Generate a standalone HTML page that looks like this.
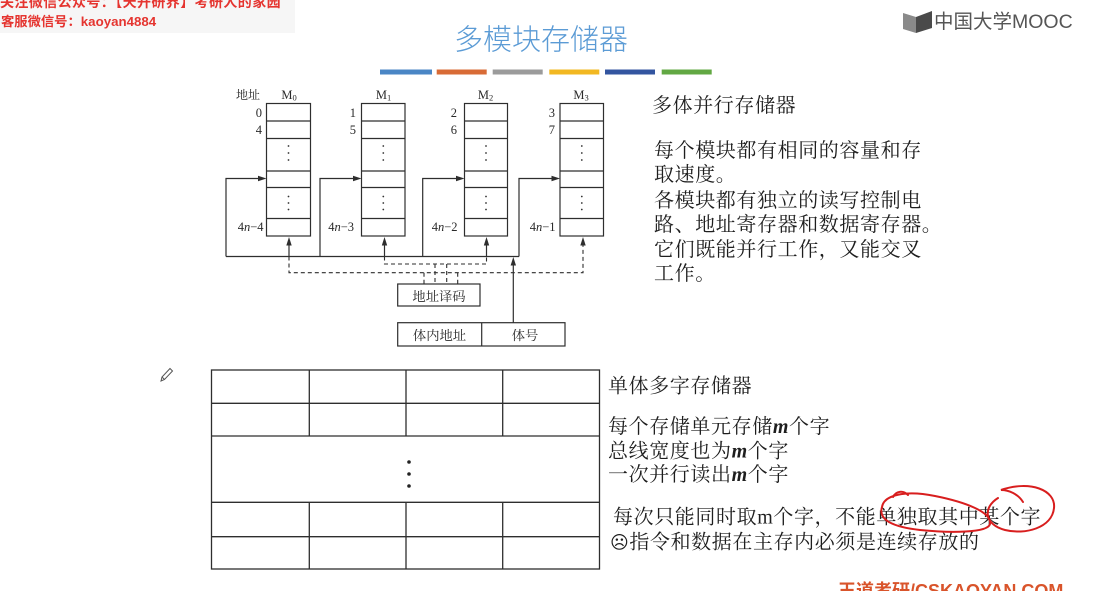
<!DOCTYPE html>
<html>
<head>
<meta charset="utf-8">
<style>
  html,body{margin:0;padding:0;background:#fff;}
  body{width:1104px;height:591px;overflow:hidden;position:relative;}
  svg{position:absolute;left:0;top:0;display:block;}
</style>
</head>
<body>
<svg width="1104" height="591" viewBox="0 0 1104 591" xmlns="http://www.w3.org/2000/svg">
  <!-- top-left watermark -->
  <rect x="0" y="0" width="295" height="33" fill="#f6f6f6"/>
  <text x="0" y="7" font-family="'Noto Sans CJK SC', sans-serif" font-weight="bold" font-size="14" fill="#e53530" letter-spacing="0.4">关注微信公众号：【天开研界】考研人的家园</text>
  <text x="1" y="26" font-family="'Liberation Sans','Noto Sans CJK SC', sans-serif" font-weight="bold" font-size="13.3" fill="#e53530">客服微信号：kaoyan4884</text>

  <!-- MOOC logo -->
  <polygon points="903,13 916,17 916,33 903,29" fill="#8a8a8a"/>
  <polygon points="916,17 932,11 932,28 916,33" fill="#4a4a4a"/>
  <text x="934" y="22" dominant-baseline="central" font-family="'Liberation Sans','Noto Sans CJK SC', sans-serif" font-size="19.5" fill="#555">中国大学MOOC</text>

  <!-- Title -->
  <text x="541" y="37.5" text-anchor="middle" dominant-baseline="central" font-family="'Noto Sans CJK SC', sans-serif" font-weight="300" font-size="29" fill="#5b9bd5">多模块存储器</text>

  <!-- colour bars -->
  <g>
    <rect x="380" y="69.5" width="52" height="5" fill="#4a86c5"/>
    <rect x="436.7" y="69.5" width="50" height="5" fill="#d86b36"/>
    <rect x="492.7" y="69.5" width="50" height="5" fill="#9b9b9b"/>
    <rect x="549.3" y="69.5" width="50" height="5" fill="#f2b822"/>
    <rect x="605" y="69.5" width="50" height="5" fill="#3355a0"/>
    <rect x="661.7" y="69.5" width="50" height="5" fill="#62a843"/>
  </g>

  <!-- ===== Multi-module diagram ===== -->
  <g stroke="#2e2e2e" stroke-width="1.2" fill="none">
    <!-- M0 -->
    <rect x="266.5" y="103.5" width="44" height="132.5"/>
    <path d="M266.5 121H310.5M266.5 138.5H310.5M266.5 171H310.5M266.5 187.5H310.5M266.5 218.5H310.5"/>
    <!-- M1 -->
    <rect x="361.5" y="103.5" width="43.5" height="132.5"/>
    <path d="M361.5 121H405M361.5 138.5H405M361.5 171H405M361.5 187.5H405M361.5 218.5H405"/>
    <!-- M2 -->
    <rect x="464.5" y="103.5" width="43" height="132.5"/>
    <path d="M464.5 121H507.5M464.5 138.5H507.5M464.5 171H507.5M464.5 187.5H507.5M464.5 218.5H507.5"/>
    <!-- M3 -->
    <rect x="560" y="103.5" width="43.5" height="132.5"/>
    <path d="M560 121H603.5M560 138.5H603.5M560 171H603.5M560 187.5H603.5M560 218.5H603.5"/>

    <!-- feedback lines and bus -->
    <path d="M226 256.5V178.5H259M320 256.5V178.5H354M422.7 256.5V178.5H457M519 256.5V178.5H553M226 256.5H519"/>

    <!-- solid up arrows from bus to modules -->
    <path d="M289 256.5V243M384.5 256.5V243M486.5 256.5V243"/>

    <!-- address/bank number arrow -->
    <path d="M513.3 322.7V264"/>

    <!-- decoder & address register boxes -->
    <rect x="397.7" y="284" width="82.3" height="22"/>
    <rect x="397.7" y="322.7" width="167.3" height="23.3"/>
    <path d="M481.7 322.7V346"/>
  </g>

  <!-- dashed lines -->
  <g stroke="#2e2e2e" stroke-width="1.1" fill="none" stroke-dasharray="4 3">
    <path d="M289 256.5V272.7H583V244"/>
    <path d="M384.5 256.5V264H486.5V256.5"/>
    <path d="M424 272.7V284M457.7 272.7V284M435 264V284M446.7 264V284"/>
  </g>

  <!-- arrowheads -->
  <g fill="#2e2e2e">
    <polygon points="266.5,178.5 258,175.8 258,181.2"/>
    <polygon points="361.5,178.5 353,175.8 353,181.2"/>
    <polygon points="464.5,178.5 456,175.8 456,181.2"/>
    <polygon points="560,178.5 551.5,175.8 551.5,181.2"/>
    <polygon points="289,237 286.3,245.5 291.7,245.5"/>
    <polygon points="384.5,237 381.8,245.5 387.2,245.5"/>
    <polygon points="486.5,237 483.8,245.5 489.2,245.5"/>
    <polygon points="583,237 580.3,245.5 585.7,245.5"/>
    <polygon points="513.3,257 510.6,265.5 516,265.5"/>
  </g>

  <!-- vertical ellipsis dots in modules -->
  <g fill="#333">
    <circle cx="288.5" cy="146" r="0.9"/><circle cx="288.5" cy="153" r="0.9"/><circle cx="288.5" cy="160" r="0.9"/>
    <circle cx="288.5" cy="196.5" r="0.9"/><circle cx="288.5" cy="203" r="0.9"/><circle cx="288.5" cy="209.5" r="0.9"/>
    <circle cx="383.3" cy="146" r="0.9"/><circle cx="383.3" cy="153" r="0.9"/><circle cx="383.3" cy="160" r="0.9"/>
    <circle cx="383.3" cy="196.5" r="0.9"/><circle cx="383.3" cy="203" r="0.9"/><circle cx="383.3" cy="209.5" r="0.9"/>
    <circle cx="486" cy="146" r="0.9"/><circle cx="486" cy="153" r="0.9"/><circle cx="486" cy="160" r="0.9"/>
    <circle cx="486" cy="196.5" r="0.9"/><circle cx="486" cy="203" r="0.9"/><circle cx="486" cy="209.5" r="0.9"/>
    <circle cx="581.8" cy="146" r="0.9"/><circle cx="581.8" cy="153" r="0.9"/><circle cx="581.8" cy="160" r="0.9"/>
    <circle cx="581.8" cy="196.5" r="0.9"/><circle cx="581.8" cy="203" r="0.9"/><circle cx="581.8" cy="209.5" r="0.9"/>
  </g>

  <!-- diagram labels -->
  <g font-family="'Liberation Serif','Noto Serif CJK SC', serif" font-size="12.5" fill="#2a2a2a" dominant-baseline="central">
    <text x="248" y="95" text-anchor="middle" font-size="12">地址</text>
    <text x="289" y="95" text-anchor="middle">M<tspan font-size="8.5" dy="2.5">0</tspan></text>
    <text x="383.5" y="95" text-anchor="middle">M<tspan font-size="8.5" dy="2.5">1</tspan></text>
    <text x="485.5" y="95" text-anchor="middle">M<tspan font-size="8.5" dy="2.5">2</tspan></text>
    <text x="581" y="95" text-anchor="middle">M<tspan font-size="8.5" dy="2.5">3</tspan></text>

    <text x="262" y="113" text-anchor="end">0</text>
    <text x="262" y="130" text-anchor="end">4</text>
    <text x="356" y="113" text-anchor="end">1</text>
    <text x="356" y="130" text-anchor="end">5</text>
    <text x="457" y="113" text-anchor="end">2</text>
    <text x="457" y="130" text-anchor="end">6</text>
    <text x="555" y="113" text-anchor="end">3</text>
    <text x="555" y="130" text-anchor="end">7</text>

    <text x="263.5" y="227" text-anchor="end">4<tspan font-style="italic">n</tspan>−4</text>
    <text x="354" y="227" text-anchor="end">4<tspan font-style="italic">n</tspan>−3</text>
    <text x="457.5" y="227" text-anchor="end">4<tspan font-style="italic">n</tspan>−2</text>
    <text x="555.5" y="227" text-anchor="end">4<tspan font-style="italic">n</tspan>−1</text>

    <text x="439" y="295.5" text-anchor="middle" font-size="13.3" font-family="'Noto Serif CJK SC', serif">地址译码</text>
    <text x="439.5" y="334.5" text-anchor="middle" font-size="13.3" font-family="'Noto Serif CJK SC', serif">体内地址</text>
    <text x="525" y="334.5" text-anchor="middle" font-size="13.3" font-family="'Noto Serif CJK SC', serif">体号</text>
  </g>

  <!-- right top text -->
  <g font-family="'Liberation Serif','Noto Serif CJK SC', serif" font-size="20" fill="#1e1e1e" letter-spacing="0.6" dominant-baseline="central">
    <text x="652" y="106">多体并行存储器</text>
    <text x="654" y="151">每个模块都有相同的容量和存</text>
    <text x="654" y="175">取速度。</text>
    <text x="654" y="201">各模块都有独立的读写控制电</text>
    <text x="654" y="225">路、地址寄存器和数据寄存器。</text>
    <text x="654" y="250">它们既能并行工作，又能交叉</text>
    <text x="654" y="274">工作。</text>
  </g>

  <!-- pencil icon -->
  <g stroke="#555" stroke-width="1" fill="none">
    <path d="M161 381 L162 377 L170 368.5 L172.5 371 L164.5 379.5 Z"/>
    <path d="M162 377 L164.5 379.5"/>
  </g>

  <!-- bottom table -->
  <g stroke="#2e2e2e" stroke-width="1.3" fill="none">
    <rect x="211.5" y="370" width="388" height="199"/>
    <path d="M211.5 403.3H599.5M211.5 436H599.5M211.5 502.3H599.5M211.5 536.7H599.5"/>
    <path d="M309.3 370V436M406 370V436M502.7 370V436M309.3 502.3V569M406 502.3V569M502.7 502.3V569"/>
  </g>
  <g fill="#222">
    <circle cx="409" cy="462" r="1.8"/>
    <circle cx="409" cy="474" r="1.8"/>
    <circle cx="409" cy="486" r="1.8"/>
  </g>

  <!-- bottom right text -->
  <g font-family="'Liberation Serif','Noto Serif CJK SC', serif" font-size="20" fill="#1e1e1e" letter-spacing="0.6" dominant-baseline="central">
    <text x="608" y="386.5">单体多字存储器</text>
    <text x="608" y="427">每个存储单元存储<tspan font-weight="bold" font-style="italic">m</tspan>个字</text>
    <text x="608" y="451.5">总线宽度也为<tspan font-weight="bold" font-style="italic">m</tspan>个字</text>
    <text x="608" y="475">一次并行读出<tspan font-weight="bold" font-style="italic">m</tspan>个字</text>
    <text x="613" y="517.5">每次只能同时取m个字，不能单独取其中某个字</text>
    <text x="610" y="542.5"><tspan font-family="'DejaVu Sans', sans-serif" font-size="18">☹</tspan>指令和数据在主存内必须是连续存放的</text>
  </g>

  <!-- red hand-drawn annotations -->
  <g stroke="#d81e1e" stroke-width="2" fill="none" stroke-linecap="round">
    <path d="M882 507 C884 495, 905 490, 935 496 C965 502, 992 512, 990 524 C988 533, 950 533, 920 530 C893 527, 878 520, 882 507"/>
    <path d="M893 497 C896 491, 903 490, 908 495"/>
    <path d="M1023 502 C1018 494, 1009 490, 1001 490 C1030 480, 1056 490, 1054 508 C1052 528, 1025 535, 1005 530 C985 525, 982 508, 998 498"/>
  </g>

  <!-- bottom watermark -->
  <text x="838" y="597" font-family="'Liberation Sans','Noto Sans CJK SC', sans-serif" font-weight="bold" font-size="18" fill="#d9542b">王道考研/CSKAOYAN.COM</text>
</svg>
</body>
</html>
